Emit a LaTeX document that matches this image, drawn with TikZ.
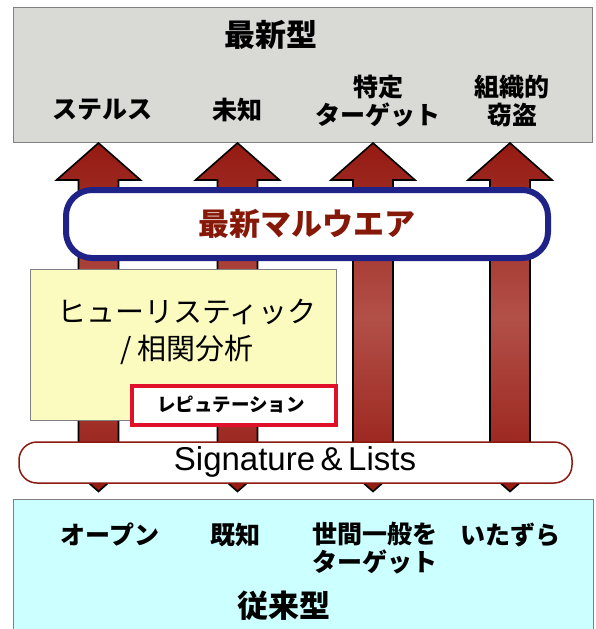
\documentclass[tikz,border=0pt]{standalone}
\usepackage{fontspec}
\setmainfont{Liberation Sans}
\newfontfamily\jp{Noto Sans CJK JP}
\definecolor{grayfill}{HTML}{D9D9D6}
\definecolor{cyanfill}{HTML}{CCFFFF}
\definecolor{yellowfill}{HTML}{FBFBC0}
\definecolor{navyline}{HTML}{1F2388}
\definecolor{arrowdark}{HTML}{951A12}
\definecolor{arrowlight}{HTML}{B25048}
\definecolor{malred}{HTML}{861808}
\definecolor{repred}{HTML}{E0102A}
\definecolor{sigred}{HTML}{8B1A10}
\definecolor{edgegray}{HTML}{808080}
\tikzset{
  panel/.style={draw=edgegray, line width=0.8pt, inner sep=0pt},
  lbl/.style={font=\jp\bfseries\fontsize{25}{28}\selectfont, align=center, inner sep=0pt},
  biglbl/.style={font=\jp\bfseries\fontsize{31}{34}\selectfont, inner sep=0pt},
  updown/.style={draw=black, line width=1.6pt, line join=miter,
    top color=arrowdark, bottom color=arrowdark, middle color=arrowlight},
}
\begin{document}
\begin{tikzpicture}[x=1pt,y=-1pt]
\useasboundingbox (0,0) rectangle (595,629);
% top panel
\node[panel, fill=grayfill, minimum width=579pt, minimum height=135pt] (top) at (302.5,74.5) {};
% bottom panel
\node[panel, fill=cyanfill, minimum width=580pt, minimum height=135pt] (bottom) at (303,566.5) {};
% arrows
\foreach \cx/\nm in {98.5/a1, 237.5/a2, 373/a3, 510/a4}{
  \coordinate (\nm top) at (\cx,143);
  \coordinate (\nm bot) at (\cx,491.5);
  \path[updown] (\nm top) -- ++(42,37) -- ++(-22,0) -- ++(0,274.5) -- ++(22,0)
     -- (\nm bot) -- ++(-42,-37) -- ++(22,0) -- ++(0,-274.5) -- ++(-22,0) -- cycle;
}
% blue rounded box
\node[draw=navyline, line width=6pt, fill=white, rounded corners=26pt,
  minimum width=482pt, minimum height=68pt] (mal) at (307,224) {};
\node[font=\jp\bfseries\fontsize{31}{34}\selectfont, text=malred, inner sep=0pt] (maltext) at (307,224) {最新マルウエア};
% yellow box
\node[panel, fill=yellowfill, minimum width=306pt, minimum height=151pt] (heur) at (183,344.5) {};
\node[font=\jp\fontsize{29}{37}\selectfont, align=center, inner sep=0pt] (heurtext) at (187,331.5) {ヒューリスティック\\/ 相関分析};
% reputation box
\node[draw=repred, line width=4pt, fill=white, minimum width=203.5pt, minimum height=39pt] (rep) at (234,405.5) {};
\node[font=\jp\bfseries\fontsize{18.5}{21}\selectfont, inner sep=0pt] (reptext) at (231,405) {レピュテーション};
% signature box
\node[draw=sigred, line width=1.5pt, fill=white, rounded corners=18pt,
  minimum width=553pt, minimum height=41pt] (sig) at (295.5,462.5) {};
\node[font=\fontsize{33}{36}\selectfont, inner sep=0pt] (sigtext) at (295,462) {Signature\,\&\,Lists};
% top labels
\node[biglbl] (newtype) at (271,35) {最新型};
\node[lbl] (stealth) at (102,110) {ステルス};
\node[lbl] (unknown) at (237.5,110) {未知};
\node[lbl] (target) at (378,101) {特定\\ターゲット};
\node[lbl] (theft) at (512,101) {組織的\\窃盗};
% bottom labels
\node[lbl] (open) at (110,535) {オープン};
\node[lbl] (known) at (235,535) {既知};
\node[lbl] (general) at (375,548.5) {世間一般を\\ターゲット};
\node[lbl] (prank) at (510,535) {いたずら};
\node[biglbl] (oldtype) at (284,606) {従来型};
\end{tikzpicture}
\end{document}
